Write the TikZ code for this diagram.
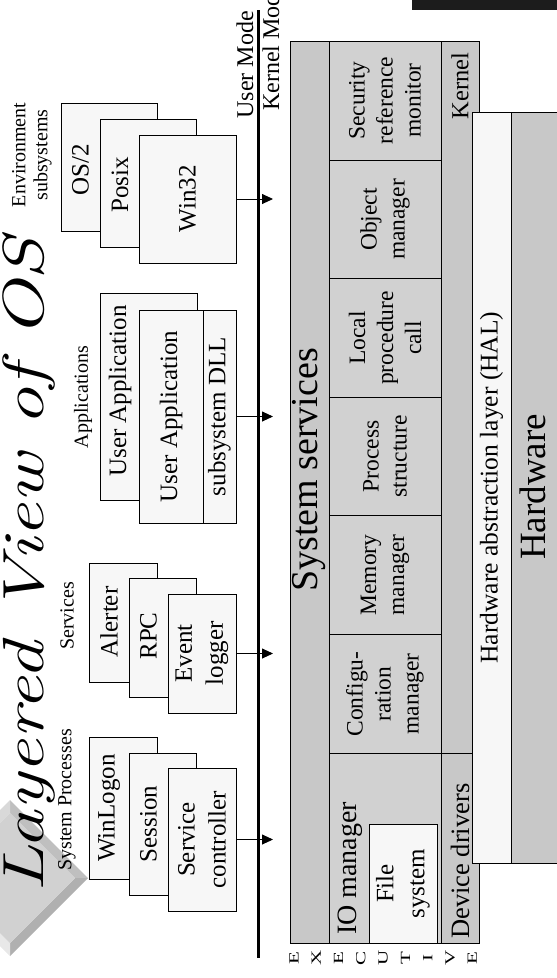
\documentclass[tikz,border=0pt]{standalone}
\usepackage{fontspec}
\setmainfont{Liberation Serif}
\newfontfamily\titlefont{Latin Modern Roman}
\usetikzlibrary{arrows.meta}
\definecolor{boxfill}{HTML}{F7F7F7}
\definecolor{execgray}{HTML}{C8C8C8}
\definecolor{modgray}{HTML}{D1D1D1}
\definecolor{inkbar}{HTML}{1C1C1C}

\begin{document}
\begin{tikzpicture}[x=1pt, y=-1pt,
  ubox/.style={draw, fill=boxfill, line width=0.9pt, inner sep=0pt},
  utxt/.style={rotate=90, align=center, inner sep=0pt, font=\fontsize{25}{31}\selectfont},
  modbox/.style={draw, fill=modgray, line width=0.9pt, rotate=90, minimum width=119pt, minimum height=112pt,
    inner sep=0pt, align=center, font=\fontsize{23.5}{28}\selectfont},
  grplbl/.style={rotate=90, align=center, inner sep=0pt, font=\fontsize{20}{22}\selectfont},
  arr/.style={-{Triangle[length=11pt, width=10pt]}, line width=0.9pt}]

\useasboundingbox (0,0) rectangle (557,978);
\clip (0,0) rectangle (557,978);

% Bar cut off at the top edge
\fill[inkbar] (412,0) rectangle (557,10);

% Bevelled diamond behind the title
\fill[gray!50] (10,800) -- (88,878) -- (75,878) -- (10,813) -- cycle;
\fill[gray!62] (88,878) -- (10,956) -- (10,943) -- (75,878) -- cycle;
\fill[gray!18] (10,956) -- (-68,878) -- (-55,878) -- (10,943) -- cycle;
\fill[gray!30] (-68,878) -- (10,800) -- (10,813) -- (-55,878) -- cycle;
\fill[gray!36] (10,813) -- (75,878) -- (10,943) -- (-55,878) -- cycle;

% Title
\node[rotate=90, xscale=1.33, anchor=base west, inner sep=0pt,
  font=\fontsize{58}{58}\titlefont\itshape] (title) at (43,893) {Layered View of OS};

% Group labels
\node[grplbl] (envlbl) at (32,155) {Environment\\subsystems};
\node[grplbl] (applbl) at (83,397) {Applications};
\node[grplbl] (svclbl) at (67,616) {Services};
\node[grplbl] (prclbl) at (67,800) {System Processes};

% Environment subsystems
\node[ubox, minimum width=96pt, minimum height=128pt] (os2) at (109,167) {};
\node[utxt] (os2t) at (80.5,170) {OS/2};
\node[ubox, minimum width=96pt, minimum height=128pt] (posix) at (148,183) {};
\node[utxt] (posixt) at (120,185) {Posix};
\node[ubox, utxt, minimum width=128pt, minimum height=97pt] (win32) at (187.5,199) {Win32};

% Applications
\node[ubox, minimum width=97pt, minimum height=207pt] (app1) at (148.5,396.5) {};
\node[utxt] (app1t) at (120,391) {User Application};
\node[ubox, utxt, minimum width=213pt, minimum height=64pt] (app2) at (171,416.5) {User Application};
\node[ubox, utxt, minimum width=213pt, minimum height=33pt] (dll) at (219.5,416.5) {subsystem DLL};

% Services
\node[ubox, minimum width=68pt, minimum height=119pt] (alert) at (123,622.5) {};
\node[utxt] (alertt) at (109,622) {Alerter};
\node[ubox, minimum width=67pt, minimum height=119pt] (rpc) at (162.5,637.5) {};
\node[utxt] (rpct) at (148.5,636) {RPC};
\node[ubox, utxt, minimum width=119pt, minimum height=68pt] (evlog) at (202,653.5) {Event\\logger};

% System processes
\node[ubox, minimum width=68pt, minimum height=142pt] (winlog) at (123,808) {};
\node[utxt] (winlogt) at (109,808) {WinLogon};
\node[ubox, minimum width=67pt, minimum height=142pt] (sess) at (162.5,824) {};
\node[utxt] (sesst) at (148.5,824) {Session};
\node[ubox, utxt, minimum width=143pt, minimum height=68pt] (svcctl) at (202,839.5) {Service\\controller};

% User / kernel boundary
\coordinate (mtop) at (258,10);
\coordinate (mbot) at (258,958);
\coordinate (tip) at (273,500);
\draw[line width=3pt] (mtop) -- (mbot);
\node[rotate=90, anchor=east, inner sep=0pt, font=\fontsize{24}{24}\selectfont] (umode) at (245,11) {User Mode};
\node[rotate=90, anchor=west, inner sep=0pt, font=\fontsize{24}{24}\selectfont] (kmode) at (271,111) {Kernel Mode};

% Calls into the kernel
\draw[arr] (win32.south) -- (win32.south -| tip);
\draw[arr] (dll.south) -- (dll.south -| tip);
\draw[arr] (evlog.south) -- (evlog.south -| tip);
\draw[arr] (svcctl.south) -- (svcctl.south -| tip);

% Executive
\draw[fill=execgray, line width=0.9pt] (290,41) rectangle (479,943);
\draw[line width=0.9pt] (329,41) -- (329,943);
\node[rotate=90, inner sep=0pt, font=\fontsize{38}{38}\selectfont] (sysserv) at (309.5,470) {System services};
\node[modbox] (srm) at (385,100.5) {Security\\reference\\monitor};
\node[modbox] (objm) at (385,219.5) {Object\\manager};
\node[modbox] (lpc) at (385,338) {Local\\procedure\\call};
\node[modbox] (pstr) at (385,456.5) {Process\\structure};
\node[modbox] (memm) at (385,575) {Memory\\manager};
\node[modbox] (cfgm) at (385,694) {Configu-\\ration\\manager};
\node[modbox, minimum width=190pt] (iobox) at (385,848) {};
\node[rotate=90, anchor=west, inner sep=0pt, font=\fontsize{28}{28}\selectfont] (iomgr) at (350,935) {IO manager};
\node[ubox, utxt, minimum width=119pt, minimum height=68pt] (fsys) at (403,883.5) {File\\system};
\draw[line width=0.9pt] (441,753) -- (472,753);
\node[rotate=90, inner sep=0pt, font=\fontsize{24.5}{24.5}\selectfont] (kern) at (460,86) {Kernel};
\node[rotate=90, anchor=west, inner sep=0pt, font=\fontsize{26.5}{26.5}\selectfont] (ddrv) at (460,939) {Device drivers};

% HAL and hardware
\node[draw, fill=boxfill, line width=0.9pt, rotate=90, minimum width=751pt, minimum height=39pt, inner sep=0pt,
  font=\fontsize{25.5}{25.5}\selectfont] (hal) at (491.5,487.5) {Hardware abstraction layer (HAL)};
\draw[fill=execgray, line width=0.9pt] (511,112) rectangle (575,863);
\node[rotate=90, inner sep=0pt, font=\fontsize{37}{37}\selectfont] (hw) at (533,487) {Hardware};

% EXECUTIVE, one letter at a time
\foreach \ch [count=\i from 0] in {E,X,E,C,U,T,I,V,E}
  \node[rotate=90, xscale=1.5, inner sep=0pt, font=\fontsize{14}{14}\selectfont] (ex\i) at (294+22.3*\i,958) {\ch};

\end{tikzpicture}
\end{document}
